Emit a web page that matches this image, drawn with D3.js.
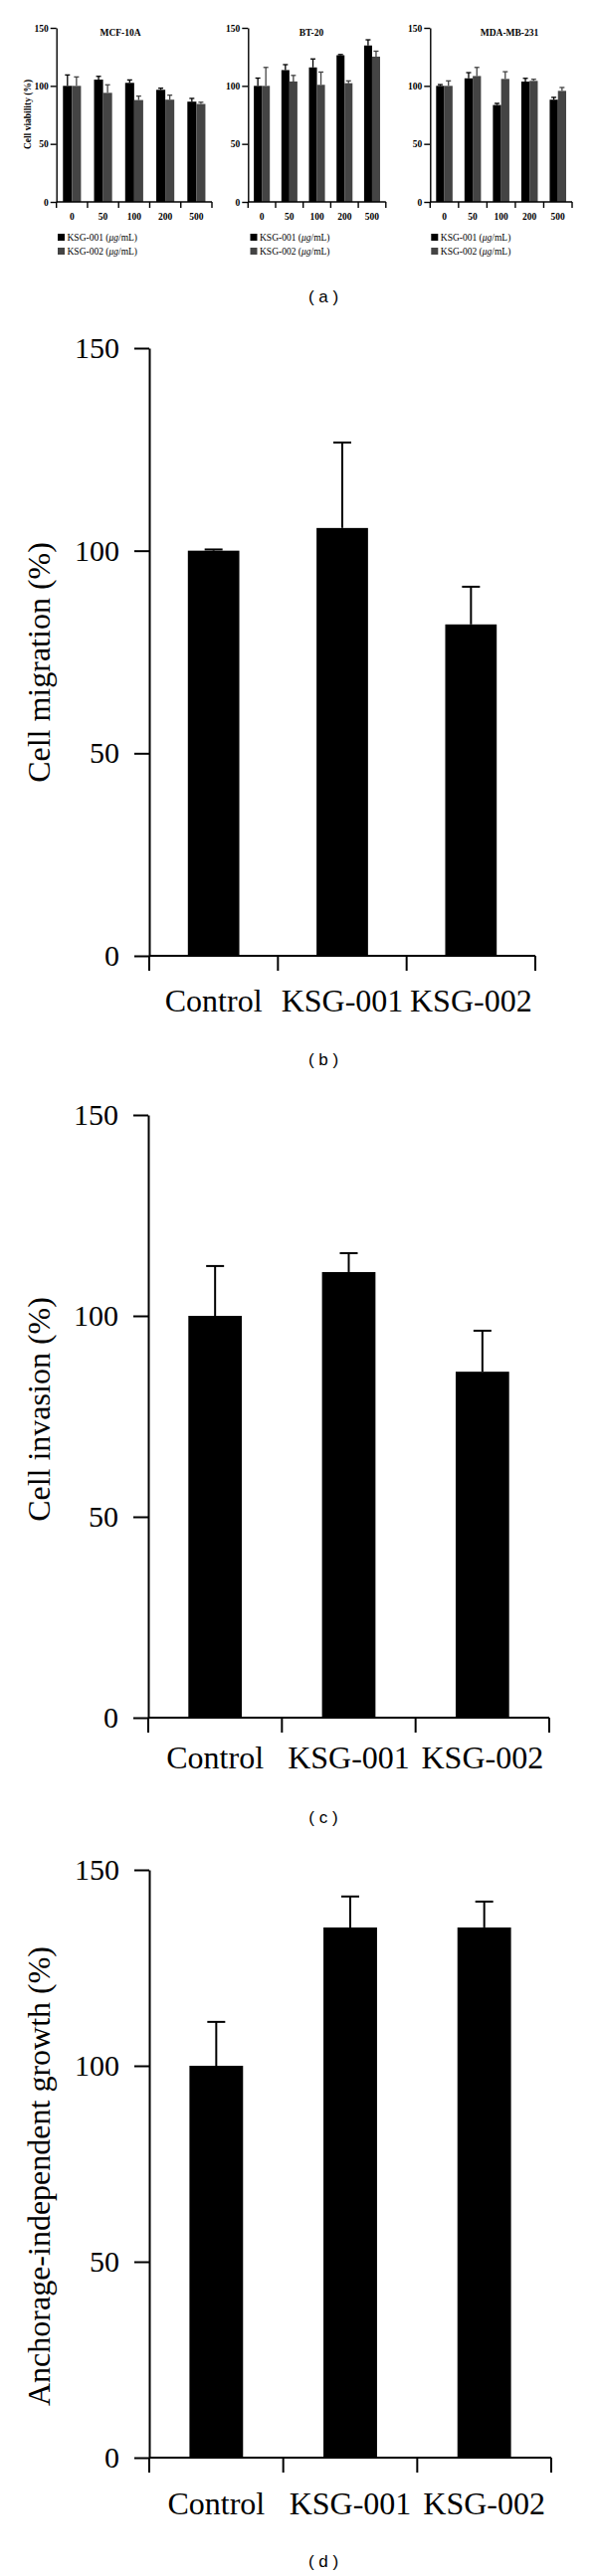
<!DOCTYPE html>
<html><head><meta charset="utf-8">
<script src="https://cdn.jsdelivr.net/npm/d3@7"></script>
<style>body{margin:0;background:#fff}svg{display:block}</style>
</head><body>
<svg id="c" width="600" height="2590"></svg>
<script>
// ---------- DATA ----------
const doseCats = ["0", "50", "100", "200", "500"];
const seriesNames = ["KSG-001", "KSG-002"];
const smallYTicks = [0, 50, 100, 150];

const mcfTitle = "MCF-10A";
const mcf001 = [100, 105.4, 102.6, 96.6, 86.4];
const mcf001Err = [9.4, 2.8, 2.5, 1.4, 2.8];
const mcf002 = [100, 94, 87.8, 88.1, 84.4];
const mcf002Err = [7.7, 6.9, 3.4, 3.9, 1.5];

const btTitle = "BT-20";
const bt001 = [100, 113.6, 115.9, 126.4, 134.8];
const bt001Err = [6.7, 4.7, 7.3, 0.6, 4.9];
const bt002 = [100, 103.8, 100.9, 102.3, 125.2];
const bt002Err = [15.9, 5.2, 11, 2, 4.7];

const mdaTitle = "MDA-MB-231";
const mda001 = [100, 106.5, 83.5, 103.7, 88.1];
const mda001Err = [1.1, 4.9, 1.4, 2.8, 2.0];
const mda002 = [100, 108.5, 106, 104.3, 95.7];
const mda002Err = [4.3, 7.4, 6.2, 1.4, 2.9];

const groupCats = ["Control", "KSG-001", "KSG-002"];
const bigYTicks = [0, 50, 100, 150];
const migration = [100, 105.6, 81.8];
const migrationErr = [0.3, 21.1, 9.3];
const invasion = [100, 110.9, 86.1];
const invasionErr = [12.4, 4.7, 10.2];
const anchorage = [100, 135.3, 135.3];
const anchorageErr = [11.2, 7.9, 6.6];

// ---------- DRAW ----------
const svg = d3.select("#c");
const SERIF = "'Liberation Serif','Times New Roman',serif";
const SANS = "'Liberation Sans',Arial,sans-serif";
const colors = ["#000000", "#444444"];

function smallChart(o) {
  const g = svg.append("g");
  const x = d3.scaleBand().domain(doseCats).range([o.x0, o.x1]);
  const pairW = x.bandwidth() * 0.58;
  const xi = d3.scaleBand().domain([0, 1]).range([0, pairW]);
  const y = d3.scaleLinear().domain([0, 150]).range([203, 28]);
  const rows = [];
  o.series.forEach((s, si) => s.vals.forEach((v, i) => rows.push({ si, cat: doseCats[i], v, e: s.errs[i] })));
  const bx = d => x(d.cat) + (x.bandwidth() - pairW) / 2 + xi(d.si);
  g.selectAll("line.eb").data(rows).join("line")
    .attr("x1", d => bx(d) + xi.bandwidth() / 2).attr("x2", d => bx(d) + xi.bandwidth() / 2)
    .attr("y1", d => y(d.v)).attr("y2", d => y(d.v + d.e))
    .attr("stroke", d => colors[d.si]).attr("stroke-width", 1.3);
  g.selectAll("line.cap").data(rows).join("line")
    .attr("x1", d => bx(d) + xi.bandwidth() / 2 - 2.5).attr("x2", d => bx(d) + xi.bandwidth() / 2 + 2.5)
    .attr("y1", d => y(d.v + d.e)).attr("y2", d => y(d.v + d.e))
    .attr("stroke", d => colors[d.si]).attr("stroke-width", 1.3);
  g.selectAll("rect").data(rows).join("rect")
    .attr("x", bx).attr("width", xi.bandwidth())
    .attr("y", d => y(d.v)).attr("height", d => y(0) - y(d.v))
    .attr("fill", d => colors[d.si]);
  const ya = g.append("g").attr("transform", `translate(${o.x0},0)`)
    .call(d3.axisLeft(y).tickValues(smallYTicks).tickSize(6).tickSizeOuter(0).tickPadding(2));
  ya.selectAll("path,line").attr("stroke", "#000").attr("stroke-width", 1.4);
  ya.selectAll("text").attr("font-family", SERIF).attr("font-size", 9.5).attr("font-weight", "bold").attr("fill", "#000");
  const bounds = [o.x0].concat(doseCats.map(c => x(c) + x.step()));
  g.append("line").attr("x1", o.x0).attr("x2", o.x1).attr("y1", y(0)).attr("y2", y(0))
    .attr("stroke", "#000").attr("stroke-width", 1.4);
  g.selectAll("line.bt").data(bounds).join("line").attr("class", "bt")
    .attr("x1", d => d).attr("x2", d => d).attr("y1", y(0)).attr("y2", y(0) + 6)
    .attr("stroke", "#000").attr("stroke-width", 1.4);
  const xa = g.append("g").attr("transform", `translate(0,${y(0)})`)
    .call(d3.axisBottom(x).tickSize(0).tickPadding(11));
  xa.select(".domain").remove();
  xa.selectAll("text").attr("font-family", SERIF).attr("font-size", 9.5).attr("font-weight", "bold").attr("fill", "#000");
  g.append("text").attr("x", o.titleX).attr("y", 36).attr("text-anchor", "middle")
    .attr("font-family", SERIF).attr("font-size", 9.5).attr("font-weight", "bold").text(o.title);
  if (o.ylabel) {
    g.append("text").attr("transform", `translate(31,${115}) rotate(-90)`).attr("text-anchor", "middle")
      .attr("font-family", SERIF).attr("font-size", 9.5).attr("font-weight", "bold").text(o.ylabel);
  }
  seriesNames.forEach((n, i) => {
    const ly = 239 + i * 14;
    g.append("rect").attr("x", o.legX).attr("y", ly - 4).attr("width", 7).attr("height", 7).attr("fill", colors[i]);
    const t = g.append("text").attr("x", o.legX + 9.5).attr("y", ly + 3)
      .attr("font-family", SERIF).attr("font-size", 9.5).attr("fill", "#000");
    t.append("tspan").text(n + " (");
    t.append("tspan").attr("font-style", "italic").text("\u03bcg");
    t.append("tspan").text("/mL)");
  });
}

smallChart({ x0: 56.7, x1: 213, title: mcfTitle, titleX: 121, legX: 58, ylabel: "Cell viability (%)",
  series: [{ vals: mcf001, errs: mcf001Err }, { vals: mcf002, errs: mcf002Err }] });
smallChart({ x0: 249.3, x1: 387.8, title: btTitle, titleX: 313, legX: 251.5,
  series: [{ vals: bt001, errs: bt001Err }, { vals: bt002, errs: bt002Err }] });
smallChart({ x0: 432.3, x1: 575, title: mdaTitle, titleX: 512, legX: 433.3,
  series: [{ vals: mda001, errs: mda001Err }, { vals: mda002, errs: mda002Err }] });

function panelLabel(letter, yb) {
  svg.append("text").attr("x", 325).attr("y", yb).attr("text-anchor", "middle")
    .attr("font-family", SANS).attr("font-size", 17).attr("fill", "#000")
    .attr("xml:space", "preserve").style("white-space", "pre").text("( " + letter + " )");
}
panelLabel("a", 304);

function bigChart(o) {
  const g = svg.append("g");
  const x = d3.scaleBand().domain(groupCats).range([o.x0, o.x1]);
  const y = d3.scaleLinear().domain([0, 150]).range([o.yZero, o.yTop]);
  const rows = o.vals.map((v, i) => ({ cat: groupCats[i], v, e: o.errs[i] }));
  const cx = d => x(d.cat) + x.bandwidth() / 2;
  g.selectAll("line.eb").data(rows).join("line")
    .attr("x1", cx).attr("x2", cx).attr("y1", d => y(d.v)).attr("y2", d => y(d.v + d.e))
    .attr("stroke", "#000").attr("stroke-width", 2);
  g.selectAll("line.cap").data(rows).join("line")
    .attr("x1", d => cx(d) - 9).attr("x2", d => cx(d) + 9)
    .attr("y1", d => y(d.v + d.e)).attr("y2", d => y(d.v + d.e))
    .attr("stroke", "#000").attr("stroke-width", 2);
  g.selectAll("rect").data(rows).join("rect")
    .attr("x", d => x(d.cat) + x.bandwidth() * 0.3).attr("width", x.bandwidth() * 0.4)
    .attr("y", d => y(d.v)).attr("height", d => y(0) - y(d.v)).attr("fill", "#000");
  const ya = g.append("g").attr("transform", `translate(${o.x0},0)`)
    .call(d3.axisLeft(y).tickValues(bigYTicks).tickSize(15).tickSizeOuter(0).tickPadding(15));
  ya.selectAll("path,line").attr("stroke", "#000").attr("stroke-width", 2);
  ya.selectAll("text").attr("font-family", SERIF).attr("font-size", 30).attr("fill", "#000");
  const bounds = [o.x0].concat(groupCats.map(c => x(c) + x.step()));
  g.append("line").attr("x1", o.x0).attr("x2", o.x1).attr("y1", y(0)).attr("y2", y(0))
    .attr("stroke", "#000").attr("stroke-width", 2);
  g.selectAll("line.bt").data(bounds).join("line").attr("class", "bt")
    .attr("x1", d => d).attr("x2", d => d).attr("y1", y(0)).attr("y2", y(0) + 15)
    .attr("stroke", "#000").attr("stroke-width", 2);
  const xa = g.append("g").attr("transform", `translate(0,${y(0)})`)
    .call(d3.axisBottom(x).tickSize(0).tickPadding(o.labPad));
  xa.select(".domain").remove();
  xa.selectAll("text").attr("font-family", SERIF).attr("font-size", 32).attr("fill", "#000");
  g.append("text").attr("transform", `translate(50,${o.labY}) rotate(-90)`).attr("text-anchor", "middle")
    .attr("font-family", SERIF).attr("font-size", 32).attr("fill", "#000").text(o.ylabel);
  panelLabel(o.letter, o.letterY);
}

bigChart({ x0: 150, x1: 538, yZero: 961, yTop: 350, vals: migration, errs: migrationErr,
  ylabel: "Cell migration (%)", labY: 666, labPad: 33, letter: "b", letterY: 1071 });
bigChart({ x0: 149, x1: 552, yZero: 1727, yTop: 1121, vals: invasion, errs: invasionErr,
  ylabel: "Cell invasion (%)", labY: 1417, labPad: 28, letter: "c", letterY: 1833 });
bigChart({ x0: 150, x1: 554, yZero: 2471, yTop: 1880, vals: anchorage, errs: anchorageErr,
  ylabel: "Anchorage-independent growth (%)", labY: 2188, labPad: 34, letter: "d", letterY: 2581 });
</script>
</body></html>
